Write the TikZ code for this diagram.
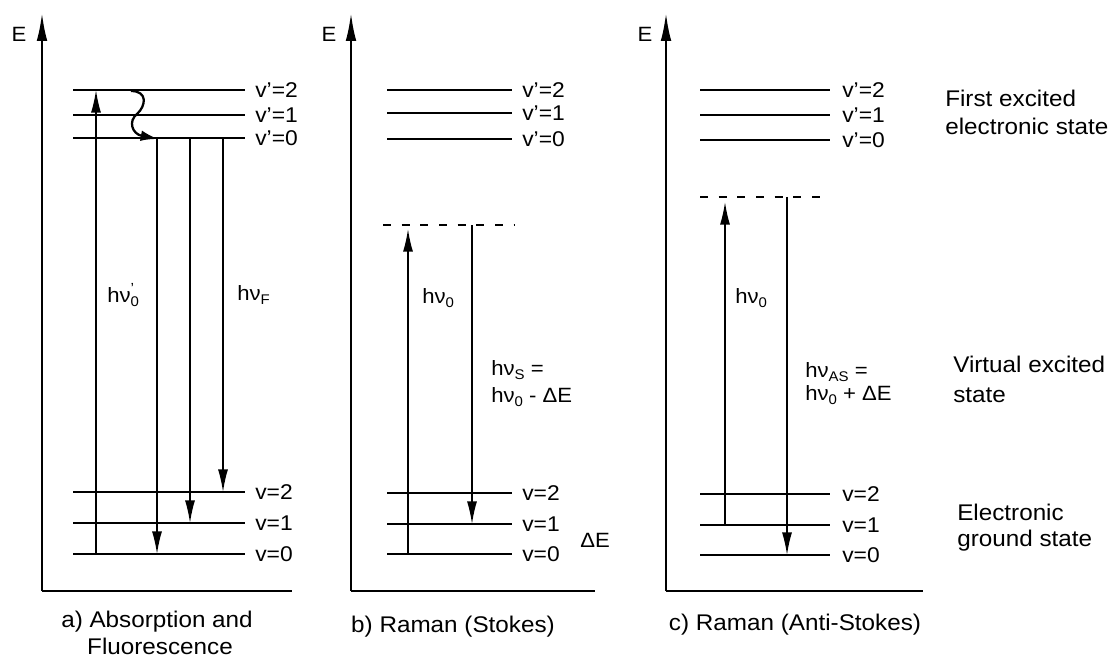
\documentclass[tikz,border=0pt]{standalone}
\usepackage{fontspec}
\setmainfont{Liberation Sans}[FakeStretch=1.07]
\usetikzlibrary{arrows.meta}
% lowered small index and raised prime used in the photon energies
\newcommand\lowsub[1]{\raisebox{-0.45ex}{\fontsize{10.5pt}{10.5pt}\selectfont #1}}
\newcommand\primesub[1]{\rlap{\raisebox{0.8ex}{\fontsize{11pt}{11pt}\selectfont ’}}\lowsub{#1}}
\begin{document}
\begin{tikzpicture}[x=0.75pt,y=-0.75pt,
  axis/.style={line width=1.7pt,-{Latex[length=21pt,width=8pt]}},
  axisline/.style={line width=1.7pt},
  level/.style={line width=1.25pt},
  virt/.style={line width=1.4pt,dash pattern=on 6pt off 8pt},
  trans/.style={line width=1.1pt,-{Latex[length=17pt,width=7.5pt]}},
  lvl/.style={font=\fontsize{16pt}{16pt}\selectfont,inner sep=0pt,anchor=west},
  elab/.style={font=\fontsize{15.5pt}{15.5pt}\selectfont,inner sep=0pt},
  hlab/.style={font=\fontsize{15.5pt}{15.5pt}\selectfont,inner sep=0pt,anchor=base west},
  captext/.style={font=\fontsize{17pt}{17pt}\selectfont,inner sep=0pt,anchor=base},
  side/.style={font=\fontsize{17pt}{17pt}\selectfont,inner sep=0pt,anchor=base west}]
\useasboundingbox (0,0) rectangle (1119,659);

% ---------------- axes ----------------
\foreach \p/\ax/\xe/\ex in {a/42/292/19, b/351/595/329, c/666/923/645}{
  \coordinate (\p-o) at (\ax,591);
  \coordinate (\p-top) at (\ax,13);
  \coordinate (\p-x) at (\xe,591);
  \draw[axis] (\p-o) -- (\p-top);
  \draw[axisline] (\p-o) -- (\p-x);
  \node[elab] (\p-E) at (\ex,34) {E};
}

% ---------------- vibrational levels ----------------
% panel a
\foreach \n/\y/\t in {e2/90/v’=2, e1/115/v’=1, e0/138/v’=0, g2/492/v=2, g1/523/v=1, g0/554/v=0}{
  \coordinate (a-\n-l) at (73,\y);
  \coordinate (a-\n-r) at (245,\y);
  \draw[level] (a-\n-l) -- (a-\n-r);
  \node[lvl] (a-\n-t) at (255,\y) {\t};
}
% panel b
\foreach \n/\y/\t in {e2/90/v’=2, e1/113/v’=1, e0/139/v’=0, g2/493/v=2, g1/524/v=1, g0/554/v=0}{
  \coordinate (b-\n-l) at (387,\y);
  \coordinate (b-\n-r) at (512,\y);
  \draw[level] (b-\n-l) -- (b-\n-r);
  \node[lvl] (b-\n-t) at (522,\y) {\t};
}
% panel c
\foreach \n/\y/\t in {e2/90/v’=2, e1/115/v’=1, e0/140/v’=0, g2/494/v=2, g1/525/v=1, g0/555/v=0}{
  \coordinate (c-\n-l) at (700,\y);
  \coordinate (c-\n-r) at (830,\y);
  \draw[level] (c-\n-l) -- (c-\n-r);
  \node[lvl] (c-\n-t) at (842,\y) {\t};
}

% virtual levels
\coordinate (b-vl) at (383,225); \coordinate (b-vr) at (515,225);
\draw[virt] (b-vl) -- (b-vr);
\coordinate (c-vl) at (700,197); \coordinate (c-vr) at (827,197);
\draw[virt] (c-vl) -- (c-vr);

% ---------------- transitions ----------------
% a) absorption, relaxation, fluorescence
\coordinate (a-abs0) at (96,554); \coordinate (a-abs1) at (96,90);
\draw[trans] (a-abs0) -- (a-abs1);
\coordinate (a-w0) at (131,91); \coordinate (a-w1) at (158,139);
\draw[line width=1.7pt,-{Latex[length=13pt,width=8pt]}] (a-w0)
      .. controls (148,91) and (146,106) .. (137,114)
      .. controls (128,121) and (132,134) .. (a-w1);
\foreach \x/\y [count=\i] in {157/554, 190/523, 223/492}{
  \coordinate (a-f\i-s) at (\x,138);
  \coordinate (a-f\i-e) at (\x,\y);
  \draw[trans] (a-f\i-s) -- (a-f\i-e);
}
% b) Stokes scattering
\coordinate (b-u0) at (408,554); \coordinate (b-u1) at (408,229);
\draw[trans] (b-u0) -- (b-u1);
\coordinate (b-d0) at (472,225); \coordinate (b-d1) at (472,524);
\draw[trans] (b-d0) -- (b-d1);
% c) anti-Stokes scattering
\coordinate (c-u0) at (725,525); \coordinate (c-u1) at (725,202);
\draw[trans] (c-u0) -- (c-u1);
\coordinate (c-d0) at (787,197); \coordinate (c-d1) at (787,555);
\draw[trans] (c-d0) -- (c-d1);

% ---------------- photon labels ----------------
\node[hlab] (a-h0) at (107,302) {hν\primesub{0}};
\node[hlab] (a-hF) at (237,300) {hν\lowsub{F}};
\node[hlab] (b-h0) at (422,303) {hν\lowsub{0}};
\node[hlab] (b-hS1) at (491,375) {hν\lowsub{S} =};
\node[hlab] (b-hS2) at (491,402) {hν\lowsub{0} - ΔE};
\node[hlab] (b-dE) at (580,547) {ΔE};
\node[hlab] (c-h0) at (735,303) {hν\lowsub{0}};
\node[hlab] (c-hA1) at (805,377) {hν\lowsub{AS} =};
\node[hlab] (c-hA2) at (805,400) {hν\lowsub{0} + ΔE};

% ---------------- captions ----------------
\node[captext] (a-cap1) at (157,627) {a) Absorption and};
\node[captext] (a-cap2) at (160,654) {Fluorescence};
\node[captext] (b-cap) at (453,632) {b) Raman (Stokes)};
\node[captext] (c-cap) at (795,630) {c) Raman (Anti-Stokes)};

% ---------------- state names ----------------
\node[side] (s-ex1) at (945,107) {First excited};
\node[side] (s-ex2) at (945,135) {electronic state};
\node[side] (s-vi1) at (953,372) {Virtual excited};
\node[side] (s-vi2) at (953,402) {state};
\node[side] (s-gr1) at (957,520) {Electronic};
\node[side] (s-gr2) at (957,546) {ground state};
\end{tikzpicture}
\end{document}
